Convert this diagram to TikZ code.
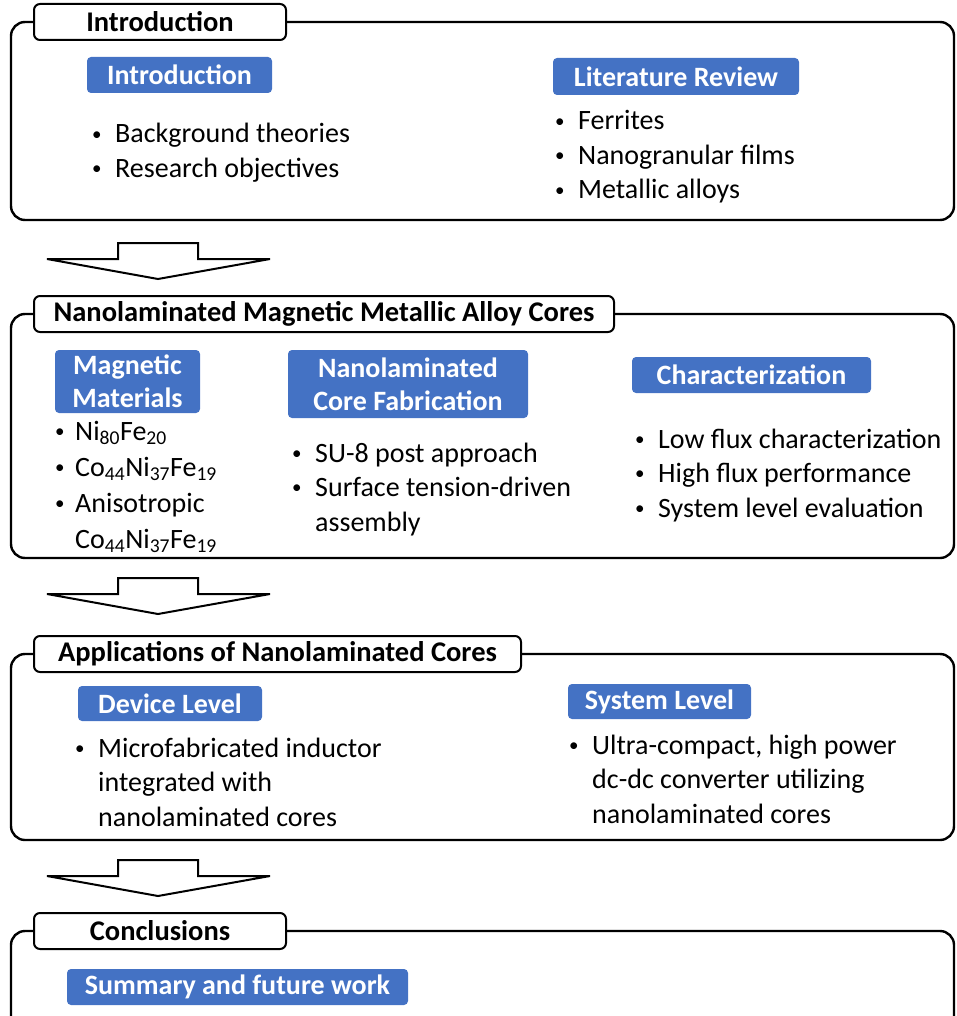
\documentclass[tikz,border=0pt]{standalone}
\usepackage{fontspec}
\setmainfont{Carlito}
\definecolor{hdrblue}{RGB}{68,114,196}
\newcommand{\bul}[1][23pt]{\makebox[#1][l]{\raisebox{0.1em}{\fontsize{19}{19}\selectfont\textbullet}}}

\begin{document}
\begin{tikzpicture}[x=1pt, y=-1pt,
    frame/.style={draw, line width=2.4pt, rounded corners=14},
    tab/.style={draw, fill=white, line width=2pt, rounded corners=6, minimum height=36, inner sep=0, anchor=west, font=\bfseries\fontsize{28.5}{32}\selectfont},
    hdr/.style={fill=hdrblue, text=white, rounded corners=4, inner sep=0, align=center, font=\bfseries\fontsize{28}{33}\selectfont},
    items/.style={anchor=base west, inner sep=0, font=\fontsize{28}{34.5}\selectfont},
    bigarrow/.style={draw, line width=2pt, fill=white, line join=miter}]

    \useasboundingbox (0,0) rectangle (956,1016);

    \draw[frame] (11,22) rectangle (954,220);
    \draw[frame] (11,314) rectangle (954,558);
    \draw[frame] (11,654) rectangle (954,840);
    \draw[frame] (11,931) rectangle (954,1060);

    \foreach \y in {243,578,860}
        \draw[bigarrow] (118,\y) -- (198,\y) -- (198,\y+16) -- (270,\y+16)
            -- (158,\y+36) -- (47,\y+16) -- (118,\y+16) -- cycle;

    \node[tab, minimum width=252] (intro) at (33,22) {Introduction};
    \node[tab, minimum width=580] (cores) at (33,314) {Nanolaminated Magnetic Metallic Alloy Cores};
    \node[tab, minimum width=487] (appl) at (33,654) {Applications of Nanolaminated Cores};
    \node[tab, minimum width=252] (concl) at (33,931) {Conclusions};

    \node[hdr, minimum width=185, minimum height=36] (introhdr) at (179.5,75) {Introduction};
    \node[hdr, minimum width=246, minimum height=37] (review) at (676,76.5) {Literature Review};
    \node[hdr, minimum width=145, minimum height=63] (materials) at (127.5,381.5) {Magnetic\\Materials};
    \node[hdr, minimum width=240, minimum height=68] (fabr) at (408,384) {Nanolaminated\\Core Fabrication};
    \node[hdr, minimum width=239, minimum height=36] (charac) at (751.5,375) {Characterization};
    \node[hdr, minimum width=184, minimum height=35] (device) at (170,703.5) {Device Level};
    \node[hdr, minimum width=183, minimum height=35] (system) at (659.5,701.5) {System Level};
    \node[hdr, minimum width=341, minimum height=36] (summary) at (237.5,987) {Summary and future work};

    \node[items] (introlist) at (92,143) {\begin{tabular}[t]{@{}l@{}l@{}}
        \bul & Background theories\\
        \bul & Research objectives
    \end{tabular}};
    \node[items] (reviewlist) at (555,130) {\begin{tabular}[t]{@{}l@{}l@{}}
        \bul & Ferrites\\
        \bul & Nanogranular films\\
        \bul & Metallic alloys
    \end{tabular}};
    \node[items, font=\fontsize{28}{36}\selectfont] (matlist) at (55,440) {\begin{tabular}[t]{@{}l@{}l@{}}
        \bul[20pt] & Ni\textsubscript{80}Fe\textsubscript{20}\\
        \bul[20pt] & Co\textsubscript{44}Ni\textsubscript{37}Fe\textsubscript{19}\\
        \bul[20pt] & Anisotropic\\
                   & Co\textsubscript{44}Ni\textsubscript{37}Fe\textsubscript{19}
    \end{tabular}};
    \node[items] (fabrlist) at (292,462) {\begin{tabular}[t]{@{}l@{}l@{}}
        \bul & SU-8 post approach\\
        \bul & Surface tension-driven\\
             & assembly
    \end{tabular}};
    \node[items] (chlist) at (635,448) {\begin{tabular}[t]{@{}l@{}l@{}}
        \bul & Low flux characterization\\
        \bul & High flux performance\\
        \bul & System level evaluation
    \end{tabular}};
    \node[items] (devlist) at (75,757) {\begin{tabular}[t]{@{}l@{}l@{}}
        \bul & Microfabricated inductor\\
             & integrated with\\
             & nanolaminated cores
    \end{tabular}};
    \node[items] (syslist) at (569,754) {\begin{tabular}[t]{@{}l@{}l@{}}
        \bul & Ultra-compact, high power\\
             & dc-dc converter utilizing\\
             & nanolaminated cores
    \end{tabular}};
\end{tikzpicture}
\end{document}
